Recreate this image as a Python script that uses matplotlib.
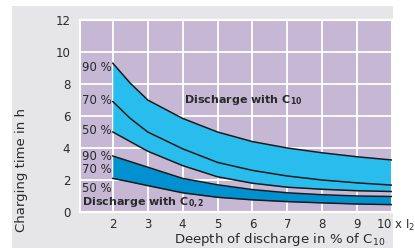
import matplotlib
matplotlib.use('Agg')
import matplotlib.pyplot as plt
import matplotlib.patches as patches
import matplotlib.transforms as mtransforms

# depth of discharge (x I20)
depth = [2, 2.5, 3, 4, 5, 6, 7, 8, 9, 10]

# charging time in h, discharge with C10
c10_90 = [9.3, 8.05, 7.0, 5.85, 5.0, 4.4, 4.0, 3.7, 3.45, 3.25]
c10_70 = [6.9, 5.85, 5.0, 3.95, 3.1, 2.6, 2.25, 2.0, 1.82, 1.68]
c10_50 = [5.0, 4.4, 3.8, 2.9, 2.2, 1.8, 1.55, 1.42, 1.33, 1.28]

# charging time in h, discharge with C0,2
c02_90 = [3.5, 3.15, 2.8, 2.1, 1.7, 1.4, 1.2, 1.08, 1.0, 0.97]
c02_50 = [2.1, 1.88, 1.65, 1.2, 0.92, 0.76, 0.65, 0.57, 0.5, 0.46]

yticks = [0, 2, 4, 6, 8, 10, 12]
xticks = [2, 3, 4, 5, 6, 7, 8, 9, 10]
xticklabels = ['2', '3', '4', '5', '6', '7', '8', '9', '10 x I$_{20}$']

lilac = '#c6b8d4'
light_blue = '#29bdee'
dark_blue = '#0092d0'
text_col = '#2a2a2a'

fig = plt.figure(figsize=(4.15, 2.48), dpi=100)
fig.patch.set_facecolor('white')
# grey panel behind the chart
fig.patches.append(patches.Rectangle((12 / 415, 0), 381 / 415, 242 / 248,
                                     transform=fig.transFigure,
                                     facecolor='#e6e6e8', edgecolor='none',
                                     zorder=-10))

ax = fig.add_axes([80 / 415, 36 / 248, 312 / 415, 192 / 248])
ax.set_facecolor(lilac)
ax.set_xlim(1.06, 9.94)
ax.set_ylim(0, 12)

ax.set_xticks(xticks)
ax.set_xticklabels(xticklabels)
ax.set_yticks(yticks)
ax.tick_params(length=0, labelsize=8.5, labelcolor=text_col)
ax.tick_params(axis='y', pad=7)
ax.tick_params(axis='x', pad=4)
lab = ax.get_xticklabels()[-1]
lab.set_ha('left')
lab.set_transform(lab.get_transform() +
                  mtransforms.ScaledTranslation(-16 / 100, 0, fig.dpi_scale_trans))

ax.grid(True, color='white', lw=1.3)
ax.set_axisbelow(True)
for s in ax.spines.values():
    s.set_color('white')
    s.set_linewidth(1.5)

# bands
ax.fill_between(depth, c10_50, c10_90, color=light_blue, lw=0, zorder=2)
ax.fill_between(depth, c02_50, c02_90, color=dark_blue, lw=0, zorder=2)
for ys in [c10_90, c10_70, c10_50, c02_90, c02_50]:
    ax.plot(depth, ys, color='#1a1a1a', lw=1.1, zorder=3)

# labels
for txt, yv in [('90 %', 9.05), ('70 %', 7.0), ('50 %', 5.1),
                ('90 %', 3.5), ('70 %', 2.65), ('50 %', 1.5)]:
    ax.text(1.12, yv, txt, fontsize=8.5, color=text_col, va='center', ha='left')
ax.text(1.12, 0.55, 'Discharge with C$_{\\mathregular{0,2}}$', fontsize=8,
        color=text_col, va='center', ha='left', fontweight='bold')
ax.text(4.05, 7.0, 'Discharge with C$_{\\mathregular{10}}$', fontsize=8,
        color=text_col, va='center', ha='left', fontweight='bold')

fig.text(22 / 415, 1 - 170 / 248, 'Charging time in h', rotation=90,
         ha='center', va='center', fontsize=9.5, color=text_col)
fig.text(280 / 415, 1 - 239 / 248, 'Deepth of discharge in % of C$_{\\mathregular{10}}$',
         ha='center', va='center', fontsize=9.5, color=text_col)

fig.savefig('out.png', dpi=100)
